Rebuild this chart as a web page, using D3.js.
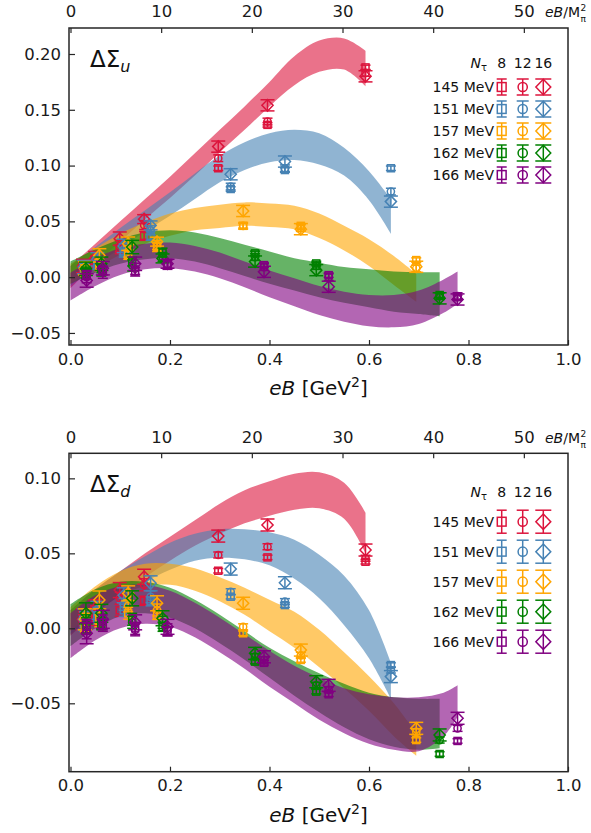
<!DOCTYPE html>
<html lang="en">
<head>
<meta charset="UTF-8">
<title>Delta Sigma u, d vs eB</title>
<script src="https://d3js.org/d3.v7.min.js"></script>
<style>
  body { margin: 0; background: #fff; }
  svg { display: block; font-family: "DejaVu Sans", sans-serif; }
  .tick text { font-size: 16.5px; fill: #1a1a1a; }
  .tick line { stroke: #262626; stroke-width: 1.2px; }
</style>
</head>
<body>
<svg id="chart" width="591" height="833"></svg>
<script>
const mpi2 = 0.135 * 0.135;   // GeV^2, for the top axis
const temps = ['145 MeV', '151 MeV', '157 MeV', '162 MeV', '166 MeV'];
const colors = ['crimson', 'steelblue', 'orange', 'green', 'purple'];
const ntaus = [8, 12, 16];

// eB of the lattice points (GeV^2), same for every N_tau at one temperature
const eB145 = [0.025, 0.0495, 0.099, 0.148, 0.297, 0.396, 0.593];
const eB151 = [0.027, 0.054, 0.107, 0.161, 0.322, 0.431, 0.644];
const eB157 = [0.029, 0.058, 0.116, 0.174, 0.347, 0.463, 0.695];
const eB162 = [0.031, 0.062, 0.124, 0.185, 0.371, 0.494, 0.742];
const eB166 = [0.0325, 0.065, 0.130, 0.195, 0.389, 0.519, 0.778];

// Delta Sigma_u, rows = N_tau 8, 12, 16
const u145 = [[0.007, 0.012, 0.025, 0.037, 0.0976, 0.1365, 0.188],
              [0.008, 0.014, 0.028, 0.0467, 0.1066, 0.1395, 0.183],
              [0.010, 0.017, 0.0345, 0.052, 0.117, 0.154, 0.180]];
const u151 = [[0.006, 0.011, 0.022, 0.037, 0.079, 0.096, 0.0976],
              [0.007, 0.013, 0.025, 0.042, 0.0812, 0.0976, 0.0767],
              [0.009, 0.016, 0.028, 0.0464, 0.0922, 0.1036, 0.0677]];
const u157 = [[0.005, 0.010, 0.020, 0.027, 0.046, 0.046, 0.0153],
              [0.006, 0.011, 0.023, 0.0288, 0.046, 0.044, 0.0078],
              [0.008, 0.0195, 0.030, 0.0318, 0.0593, 0.043, 0.0093]];
const u162 = [[0.004, 0.008, 0.014, 0.022, 0.0213, 0.0123, -0.016],
              [0.004, 0.006, 0.0105, 0.018, 0.018, 0.010, -0.017],
              [0.0075, 0.012, 0.027, 0.0168, 0.014, 0.0063, -0.019]];
const u166 = [[0.002, 0.006, 0.005, 0.012, 0.0108, 0.0018, -0.018],
              [0.000, 0.004, 0.0075, 0.011, 0.009, 0.000, -0.017],
              [-0.003, 0.008, 0.012, 0.012, 0.0048, -0.0086, -0.020]];
const errU = [[0.004, 0.004, 0.004, 0.004, 0.002, 0.002, 0.002],
              [0.005, 0.005, 0.005, 0.004, 0.003, 0.003, 0.003],
              [0.006, 0.006, 0.006, 0.004, 0.005, 0.005, 0.005]];

// Delta Sigma_d, rows = N_tau 8, 12, 16
const d145 = [[0.004, 0.006, 0.012, 0.0184, 0.0384, 0.0473, 0.0444],
              [0.005, 0.010, 0.020, 0.029, 0.0489, 0.0544, 0.0467],
              [0.006, 0.013, 0.0255, 0.0344, 0.0615, 0.0689, 0.0522]];
const d151 = [[0.003, 0.007, 0.012, 0.018, 0.0211, 0.0155, -0.0245],
              [0.005, 0.009, 0.016, 0.021, 0.0244, 0.0178, -0.0278],
              [0.006, 0.012, 0.022, 0.030, 0.0395, 0.0304, -0.0322]];
const d157 = [[0.002, 0.005, 0.010, 0.0089, -0.0033, -0.0211, -0.0745],
              [0.004, 0.008, 0.015, 0.0122, 0.001, -0.018, -0.069],
              [0.006, 0.0189, 0.0233, 0.0167, 0.0167, -0.0145, -0.0667]];
const d162 = [[0.002, 0.003, 0.006, 0.001, -0.0222, -0.0422, -0.0838],
              [0.003, 0.0044, 0.004, 0.004, -0.0189, -0.038, -0.0745],
              [0.010, 0.010, 0.020, 0.0067, -0.0167, -0.0356, -0.0711]];
const d166 = [[0.001, 0.002, 0.000, -0.002, -0.023, -0.044, -0.0751],
              [-0.001, 0.004, -0.001, -0.001, -0.021, -0.041, -0.0667],
              [-0.0033, 0.006, 0.004, 0.001, -0.019, -0.038, -0.060]];
const errD = [[0.005, 0.004, 0.004, 0.003, 0.0015, 0.0015, 0.0015],
              [0.006, 0.005, 0.004, 0.004, 0.002, 0.002, 0.002],
              [0.007, 0.006, 0.005, 0.005, 0.004, 0.004, 0.004]];

// fit bands: sample eB and lower / upper edges
const bx145 = [0, 0.05, 0.1, 0.15, 0.2, 0.25, 0.3, 0.35, 0.4, 0.45, 0.5, 0.55, 0.593];
const bx151 = [0, 0.05, 0.1, 0.15, 0.2, 0.25, 0.3, 0.35, 0.4, 0.45, 0.5, 0.55, 0.6, 0.644];
const bx157 = [0, 0.05, 0.1, 0.15, 0.2, 0.25, 0.3, 0.35, 0.4, 0.45, 0.5, 0.55, 0.6, 0.65, 0.695];
const bx162 = [0, 0.05, 0.1, 0.15, 0.2, 0.25, 0.3, 0.35, 0.4, 0.45, 0.5, 0.55, 0.6, 0.65, 0.7, 0.742];
const bx166 = [0, 0.05, 0.1, 0.15, 0.2, 0.25, 0.3, 0.35, 0.4, 0.45, 0.5, 0.55, 0.6, 0.65, 0.7, 0.75, 0.778];

const bu145Lo = [-0.010, 0.012, 0.032, 0.052, 0.071, 0.091, 0.112, 0.132, 0.153, 0.172, 0.184, 0.186, 0.171];
const bu145Hi = [0.010, 0.030, 0.050, 0.070, 0.090, 0.111, 0.132, 0.153, 0.175, 0.198, 0.212, 0.214, 0.203];
const bu151Lo = [-0.008, 0.010, 0.026, 0.041, 0.055, 0.070, 0.085, 0.096, 0.103, 0.105, 0.101, 0.091, 0.069, 0.039];
const bu151Hi = [0.010, 0.027, 0.044, 0.060, 0.076, 0.093, 0.109, 0.121, 0.129, 0.132, 0.129, 0.116, 0.095, 0.070];
const bu157Lo = [-0.006, 0.008, 0.020, 0.030, 0.037, 0.042, 0.044, 0.046, 0.045, 0.043, 0.035, 0.024, 0.010, -0.007, -0.022];
const bu157Hi = [0.012, 0.026, 0.039, 0.049, 0.057, 0.062, 0.065, 0.067, 0.066, 0.064, 0.057, 0.046, 0.034, 0.019, 0.003];
const bu162Lo = [-0.006, 0.004, 0.012, 0.016, 0.017, 0.014, 0.008, 0.001, -0.006, -0.012, -0.018, -0.023, -0.027, -0.031, -0.033, -0.035];
const bu162Hi = [0.014, 0.025, 0.034, 0.040, 0.042, 0.040, 0.035, 0.029, 0.023, 0.017, 0.013, 0.009, 0.007, 0.005, 0.0045, 0.0045];
const bu166Lo = [-0.021, -0.008, 0.002, 0.007, 0.008, 0.005, -0.001, -0.009, -0.018, -0.026, -0.034, -0.040, -0.044, -0.045, -0.042, -0.032, -0.024];
const bu166Hi = [0.004, 0.017, 0.026, 0.030, 0.031, 0.028, 0.022, 0.014, 0.006, -0.001, -0.008, -0.013, -0.016, -0.016, -0.012, -0.002, 0.005];

const bd145Lo = [-0.005, 0.010, 0.022, 0.034, 0.045, 0.055, 0.063, 0.070, 0.075, 0.079, 0.080, 0.073, 0.050];
const bd145Hi = [0.012, 0.026, 0.038, 0.050, 0.061, 0.072, 0.083, 0.092, 0.098, 0.103, 0.104, 0.097, 0.077];
const bd151Lo = [-0.004, 0.010, 0.022, 0.031, 0.039, 0.045, 0.047, 0.046, 0.042, 0.033, 0.020, 0.002, -0.020, -0.047];
const bd151Hi = [0.012, 0.026, 0.038, 0.048, 0.057, 0.063, 0.066, 0.066, 0.064, 0.059, 0.049, 0.035, 0.012, -0.023];
const bd157Lo = [-0.002, 0.012, 0.022, 0.028, 0.029, 0.025, 0.018, 0.009, -0.002, -0.013, -0.026, -0.040, -0.055, -0.072, -0.085];
const bd157Hi = [0.014, 0.028, 0.038, 0.043, 0.043, 0.040, 0.034, 0.027, 0.019, 0.011, -0.001, -0.016, -0.032, -0.050, -0.070];
const bd162Lo = [-0.012, 0.000, 0.008, 0.010, 0.007, 0.000, -0.010, -0.021, -0.033, -0.045, -0.056, -0.066, -0.074, -0.079, -0.081, -0.080];
const bd162Hi = [0.016, 0.026, 0.031, 0.031, 0.027, 0.019, 0.009, -0.002, -0.013, -0.022, -0.030, -0.037, -0.043, -0.046, -0.047, -0.047];
const bd166Lo = [-0.020, -0.008, 0.000, 0.003, 0.001, -0.006, -0.016, -0.027, -0.039, -0.050, -0.061, -0.070, -0.077, -0.081, -0.082, -0.072, -0.059];
const bd166Hi = [0.010, 0.022, 0.028, 0.029, 0.025, 0.017, 0.007, -0.004, -0.015, -0.025, -0.033, -0.040, -0.044, -0.046, -0.046, -0.043, -0.038];

const xTicks = [0, 0.2, 0.4, 0.6, 0.8, 1.0];
const topTicks = [0, 10, 20, 30, 40, 50];

const eBs = [eB145, eB151, eB157, eB162, eB166];
const bxs = [bx145, bx151, bx157, bx162, bx166];

const panels = [
  { name: 'u', y0: 28, y1: 345, dom: [-0.0608, 0.2233], yTicks: [-0.05, 0, 0.05, 0.10, 0.15, 0.20],
    vals: [u145, u151, u157, u162, u166], err: errU,
    lo: [bu145Lo, bu151Lo, bu157Lo, bu162Lo, bu166Lo], hi: [bu145Hi, bu151Hi, bu157Hi, bu162Hi, bu166Hi],
    head: 68, row0: 87, rowStep: 22, legErr: 8, titleY: 66.7, topPad: 11, xlabY: 395 },
  { name: 'd', y0: 453.3, y1: 771.7, dom: [-0.0956, 0.1167], yTicks: [-0.05, 0, 0.05, 0.10],
    vals: [d145, d151, d157, d162, d166], err: errD,
    lo: [bd145Lo, bd151Lo, bd157Lo, bd162Lo, bd166Lo], hi: [bd145Hi, bd151Hi, bd157Hi, bd162Hi, bd166Hi],
    head: 496.5, row0: 521.7, rowStep: 30, legErr: 11.5, titleY: 491.7, topPad: 10, xlabY: 821.5 }
];

const svg = d3.select('#chart');
const L = 69, R = 568;
const x = d3.scaleLinear().domain([-0.003, 1.0]).range([L, R]);
const xTop = d3.scaleLinear().domain([-0.003 / mpi2, 1.0 / mpi2]).range([L, R]);
const fmtY = v => d3.format('.2f')(v).replace('-', '\u2212');

function marker(g, shape, cx, cy, s, color) {
  if (shape === 0) {
    g.append('rect').attr('x', cx - s).attr('y', cy - s).attr('width', 2 * s).attr('height', 2 * s)
      .attr('fill', 'none').attr('stroke', color).attr('stroke-width', 1.5);
  } else if (shape === 1) {
    g.append('circle').attr('cx', cx).attr('cy', cy).attr('r', s)
      .attr('fill', 'none').attr('stroke', color).attr('stroke-width', 1.5);
  } else {
    const w = s * 1.55, h = s * 1.6;
    g.append('path').attr('d', `M${cx},${cy - h}L${cx + w},${cy}L${cx},${cy + h}L${cx - w},${cy}Z`)
      .attr('fill', 'none').attr('stroke', color).attr('stroke-width', 1.5);
  }
}

function errbar(g, cx, ya, yb, cap, color) {
  g.append('line').attr('x1', cx).attr('x2', cx).attr('y1', ya).attr('y2', yb)
    .attr('stroke', color).attr('stroke-width', 1.5);
  [ya, yb].forEach(yy => g.append('line').attr('x1', cx - cap).attr('x2', cx + cap)
    .attr('y1', yy).attr('y2', yy).attr('stroke', color).attr('stroke-width', 1.5));
}

panels.forEach((p, pi) => {
  const y = d3.scaleLinear().domain(p.dom).range([p.y1, p.y0]);
  const g = svg.append('g');
  const clipId = 'clip' + pi;
  svg.append('clipPath').attr('id', clipId).append('rect')
    .attr('x', L).attr('y', p.y0).attr('width', R - L).attr('height', p.y1 - p.y0);

  const plot = g.append('g').attr('clip-path', `url(#${clipId})`);

  // bands
  const area = d3.area().x(d => x(d[0])).y0(d => y(d[1])).y1(d => y(d[2])).curve(d3.curveCatmullRom);
  temps.forEach((t, ti) => {
    const pts = bxs[ti].map((bx, i) => [bx, p.lo[ti][i], p.hi[ti][i]]);
    plot.append('path').attr('d', area(pts)).attr('fill', colors[ti]).attr('fill-opacity', 0.6);
  });

  // lattice points
  const caps = [5, 5, 7];
  const sizes = [3.5, 3.6, 3.6];
  temps.forEach((t, ti) => {
    ntaus.forEach((nt, ni) => {
      eBs[ti].forEach((eb, i) => {
        const v = p.vals[ti][ni][i], e = p.err[ni][i];
        const cx = x(eb);
        errbar(plot, cx, y(v - e), y(v + e), caps[ni], colors[ti]);
        marker(plot, ni, cx, y(v), sizes[ni], colors[ti]);
      });
    });
  });

  // axes
  g.append('g').attr('transform', `translate(${L},0)`)
    .call(d3.axisLeft(y).tickValues(p.yTicks).tickFormat(fmtY).tickSizeInner(-6).tickSizeOuter(0).tickPadding(8))
    .call(a => a.select('.domain').remove());
  g.append('g').attr('transform', `translate(0,${p.y1})`)
    .call(d3.axisBottom(x).tickValues(xTicks).tickFormat(d3.format('.1f')).tickSizeInner(-5).tickSizeOuter(0).tickPadding(8))
    .call(a => a.select('.domain').remove());
  g.append('g').attr('transform', `translate(0,${p.y0})`)
    .call(d3.axisTop(xTop).tickValues(topTicks).tickFormat(d3.format('d')).tickSizeInner(-5).tickSizeOuter(0).tickPadding(p.topPad))
    .call(a => a.select('.domain').remove());
  g.selectAll('.tick text').attr('font-family', '"DejaVu Sans", sans-serif').attr('font-size', 16.5);

  g.append('rect').attr('x', L).attr('y', p.y0).attr('width', R - L).attr('height', p.y1 - p.y0)
    .attr('fill', 'none').attr('stroke', '#262626').attr('stroke-width', 1.5);

  // panel title
  const title = g.append('text').attr('x', 90).attr('y', p.titleY).attr('font-size', 23).attr('fill', '#111');
  title.append('tspan').text('\u0394\u03A3');
  title.append('tspan').attr('font-style', 'italic').attr('font-size', 16).attr('dy', 5).text(p.name);

  // x label
  const xl = g.append('text').attr('x', (L + R) / 2).attr('y', p.xlabY).attr('text-anchor', 'middle')
    .attr('font-size', 20).attr('fill', '#111');
  xl.append('tspan').attr('font-style', 'italic').text('eB');
  xl.append('tspan').text(' [GeV');
  xl.append('tspan').attr('font-size', 14).attr('dy', -8).text('2');
  xl.append('tspan').attr('dy', 8).text(']');

  // top-right unit label: eB/M with stacked 2 over pi
  const base = p.y0 - p.topPad;
  const tl = g.append('text').attr('x', 545).attr('y', base).attr('font-size', 14).attr('fill', '#111');
  tl.append('tspan').attr('font-style', 'italic').text('eB');
  tl.append('tspan').text('/M');
  const tlw = tl.node().getComputedTextLength();
  g.append('text').attr('x', 545 + tlw + 0.5).attr('y', base - 6.5).attr('font-size', 9).attr('fill', '#111').text('2');
  g.append('text').attr('x', 545 + tlw + 0.5).attr('y', base + 4.5).attr('font-size', 9).attr('fill', '#111').text('\u03C0');

  // legend
  const colX = [501.7, 522.7, 543.3];
  const hd = g.append('text').attr('x', 487).attr('y', p.head).attr('text-anchor', 'end').attr('font-size', 14).attr('fill', '#111');
  hd.append('tspan').attr('font-style', 'italic').text('N');
  hd.append('tspan').attr('font-size', 10).attr('dy', 3).text('\u03C4');
  ntaus.forEach((nt, ni) => g.append('text').attr('x', colX[ni]).attr('y', p.head).attr('text-anchor', 'middle')
    .attr('font-size', 14).attr('fill', '#111').text(nt));
  const legCaps = [5, 6, 8];
  const legSizes = [4.4, 4.6, 4.8];
  temps.forEach((t, ti) => {
    const cy = p.row0 + ti * p.rowStep;
    g.append('text').attr('x', 494).attr('y', cy + 5).attr('text-anchor', 'end').attr('font-size', 14)
      .attr('fill', '#111').text(t);
    ntaus.forEach((nt, ni) => {
      errbar(g, colX[ni], cy - p.legErr, cy + p.legErr, legCaps[ni], colors[ti]);
      marker(g, ni, colX[ni], cy, legSizes[ni], colors[ti]);
    });
  });
});
</script>
</body>
</html>
